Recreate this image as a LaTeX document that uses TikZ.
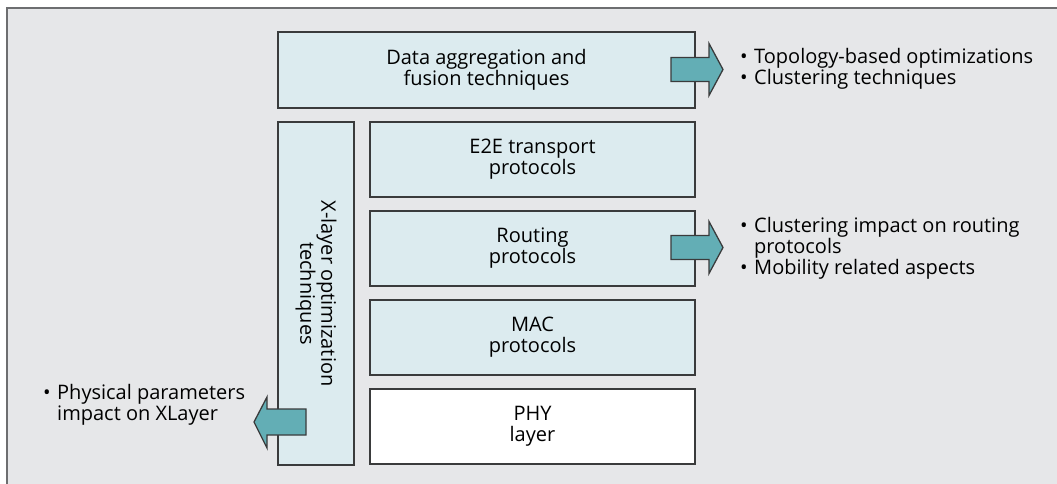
\documentclass[tikz,border=0pt]{standalone}
\usepackage{fontspec}
\setmainfont{Open Sans}
\usetikzlibrary{positioning,calc}

\definecolor{framefill}{HTML}{E6E7E9}
\definecolor{frameline}{HTML}{6D6E70}
\definecolor{boxfill}{HTML}{DCEBEF}
\definecolor{boxline}{HTML}{3A3B3C}
\definecolor{arrowfill}{HTML}{63AEB5}

\newcommand{\bitem}{\makebox[14pt][l]{\textbullet}}

\begin{document}
\begin{tikzpicture}[x=1pt,y=-1pt,
  blk/.style={draw=boxline, line width=1.3pt, fill=boxfill, align=center,
    inner sep=0pt, outer sep=0pt, font=\fontsize{20}{21}\selectfont},
  layer/.style={blk, minimum width=325pt, minimum height=75pt},
  fat/.style={draw=boxline, line width=1.3pt, fill=arrowfill},
  note/.style={align=left, inner sep=0pt, anchor=west,
    font=\fontsize{20}{21}\selectfont}]

\useasboundingbox (0,0) rectangle (1057,484);
\clip (0,0) rectangle (1057,484);
\draw [fill=framefill, draw=frameline, line width=2pt] (7,8) rectangle (1070,500);

\node [blk, minimum width=417pt, minimum height=76pt] (data) at (486.5,70)
  {Data aggregation and\\fusion techniques};
\node [blk, rotate=-90, minimum width=343pt, minimum height=76pt] (xlayer) at (316,293.5)
  {X-layer optimization\\techniques};

\node [layer] (e2e) at (532.5,159.5) {E2E transport\\protocols};
\node [layer, below=14pt of e2e] (routing) {Routing\\protocols};
\node [layer, below=14pt of routing] (mac) {MAC\\protocols};
\node [layer, fill=white, below=14pt of mac] (phy) {PHY\\layer};

% fat arrows
\draw [fat] ($ (data.east) + (-24,-12.5) $)
  -- ++(38,0) -- ++(0,-14) -- ++(14,26) -- ++(-14,26) -- ++(0,-14) -- ++(-38,0) -- cycle;
\draw [fat] ($ (routing.east) + (-24,-13) $)
  -- ++(38,0) -- ++(0,-14) -- ++(14,26) -- ++(-14,26) -- ++(0,-14) -- ++(-38,0) -- cycle;
\coordinate (xout) at (306,422);
\draw [fat] ($ (xout) + (0,-13) $)
  -- ++(-39,0) -- ++(0,-12) -- ++(-13,25) -- ++(13,26) -- ++(0,-13) -- ++(39,0) -- cycle;

\node [note] (topo) at (740,69)
  {\bitem Topology-based optimizations\\\bitem Clustering techniques};
\node [note] (clust) at (740,248)
  {\bitem Clustering impact on routing\\\hspace*{14pt}protocols\\\bitem Mobility related aspects};
\node [note] (phys) at (43,405)
  {\bitem Physical parameters\\\hspace*{14pt}impact on XLayer};

\end{tikzpicture}
\end{document}
